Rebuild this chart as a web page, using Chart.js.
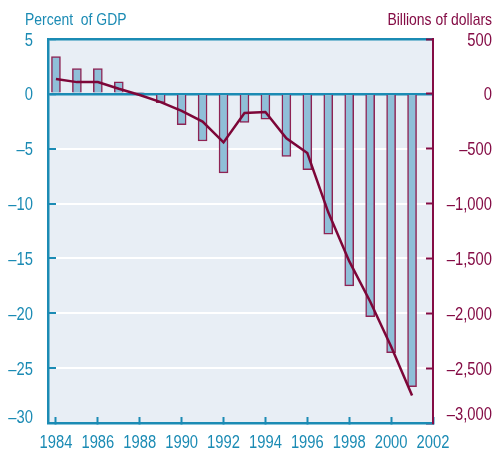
<!DOCTYPE html>
<html>
<head>
<meta charset="utf-8">
<script src="https://cdn.jsdelivr.net/npm/chart.js@4"></script>
<style>
  body { margin: 0; background: #fff; }
  #wrap { width: 495px; height: 449px; }
</style>
</head>
<body>
<div id="wrap"><canvas id="myChart" width="495" height="449"></canvas></div>
<script>
var years = [1984, 1985, 1986, 1987, 1988, 1989, 1990, 1991, 1992, 1993, 1994, 1995, 1996, 1997, 1998, 1999, 2000, 2001];
var pctGdp = [3.4, 2.3, 2.3, 1.1, 0.1, -0.8, -2.8, -4.3, -7.2, -2.6, -2.3, -5.7, -6.9, -12.8, -17.5, -20.3, -23.6, -26.7];
var billions = [135, 107, 107, 46, -10, -75, -155, -253, -442, -174, -165, -405, -540, -1080, -1525, -1893, -2303, -2750];
var xTicks = [1984, 1986, 1988, 1990, 1992, 1994, 1996, 1998, 2000, 2002];

var teal = '#1b8bb4';
var maroon = '#840c45';
var font = "'Liberation Sans', Arial, sans-serif";

function dash(v) {
  var s = Math.abs(v).toLocaleString('en-US');
  return v < 0 ? '\u2013' + s : s;
}

// narrow text: Liberation Sans squeezed to look like a condensed face
function narrow(c, text, x, y, align, color, size) {
  c.save();
  c.translate(x, y);
  c.scale(0.82, 1);
  c.font = size + 'px ' + font;
  c.fillStyle = color;
  c.textAlign = align;
  c.textBaseline = 'alphabetic';
  c.fillText(text, 0, 0);
  c.restore();
}

var extras = {
  id: 'extras',
  beforeDraw: function (chart) {
    var c = chart.ctx, a = chart.chartArea;
    c.save();
    c.fillStyle = '#e8eef5';
    c.fillRect(a.left, a.top, a.right - a.left, a.bottom - a.top);
    c.restore();
  },
  afterDraw: function (chart) {
    var c = chart.ctx;
    var sx = chart.scales.x, sy = chart.scales.y, sy2 = chart.scales.y2;
    narrow(c, 'Percent  of GDP', 25, 25, 'left', teal, 17);
    narrow(c, 'Billions of dollars', 492, 25, 'right', maroon, 17);
    sx.ticks.forEach(function (t) {
      narrow(c, String(t.value), sx.getPixelForValue(t.value), 448, 'center', teal, 18);
    });
    sy.ticks.forEach(function (t) {
      var y = sy.getPixelForValue(t.value) + 6.5;
      if (t.value === sy.min) y -= 7;
      narrow(c, dash(t.value), 33, y, 'right', teal, 18);
    });
    sy2.ticks.forEach(function (t) {
      var y = sy2.getPixelForValue(t.value) + 6.5;
      if (t.value === sy2.min) y -= 10;
      narrow(c, dash(t.value), 492, y, 'right', maroon, 18);
    });
  }
};

var ctx = document.getElementById('myChart').getContext('2d');
var myChart = new Chart(ctx, {
  type: 'bar',
  data: {
    datasets: [{
      type: 'line',
      data: years.map(function (y, i) { return { x: y, y: billions[i] }; }),
      yAxisID: 'y2',
      borderColor: '#7d0638',
      borderWidth: 2.5,
      pointRadius: 0,
      tension: 0,
      order: 0
    }, {
      type: 'bar',
      data: years.map(function (y, i) { return { x: y, y: pctGdp[i] }; }),
      yAxisID: 'y',
      backgroundColor: '#8fbfd8',
      borderColor: '#8e2354',
      borderWidth: 1.5,
      barThickness: 9,
      order: 1
    }]
  },
  options: {
    responsive: false,
    animation: false,
    layout: { padding: { top: 39, right: 3, left: 0, bottom: 0 } },
    plugins: { legend: { display: false }, tooltip: { enabled: false } },
    scales: {
      x: {
        type: 'linear',
        offset: false,
        min: 1983.62,
        max: 2002,
        afterBuildTicks: function (s) { s.ticks = xTicks.map(function (v) { return { value: v }; }); },
        afterFit: function (s) { s.height = 26; },
        grid: { offset: false, drawOnChartArea: false, tickLength: -6, tickColor: teal, tickWidth: 2 },
        border: { color: teal, width: 2.5 },
        ticks: { display: false }
      },
      y: {
        position: 'left',
        min: -30,
        max: 5,
        afterFit: function (s) { s.width = 48; },
        grid: {
          color: function (c) { return (c.tick && (c.tick.value === 0 || c.tick.value === 5)) ? teal : '#ffffff'; },
          lineWidth: function (c) { return (c.tick && (c.tick.value === 0 || c.tick.value === 5)) ? 2.5 : 2; },
          tickLength: -8, tickColor: teal, tickWidth: 2
        },
        border: { color: teal, width: 2.5 },
        ticks: { stepSize: 5, display: false }
      },
      y2: {
        position: 'right',
        min: -3000,
        max: 500,
        afterFit: function (s) { s.width = 59; },
        grid: { drawOnChartArea: false, tickLength: -7, tickColor: maroon, tickWidth: 2 },
        border: { color: maroon, width: 2 },
        ticks: { stepSize: 500, display: false }
      }
    }
  },
  plugins: [extras]
});
</script>
</body>
</html>
